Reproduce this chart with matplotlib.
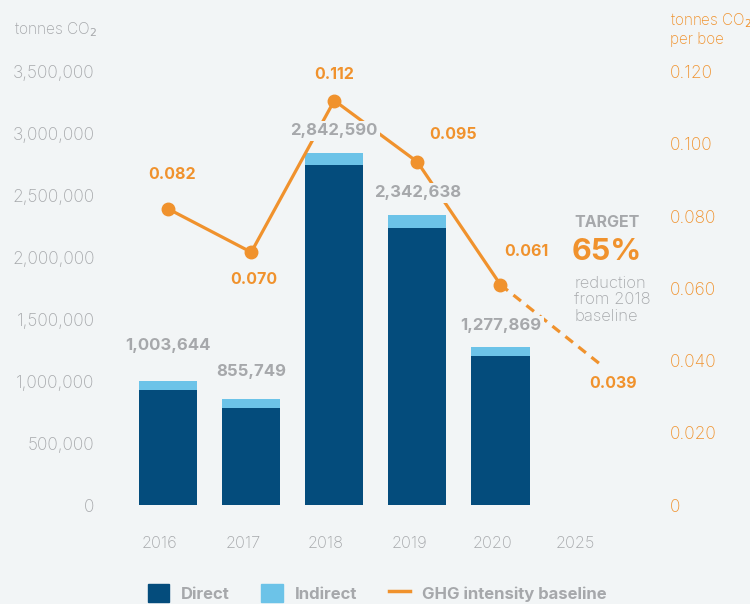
import matplotlib.pyplot as plt
from matplotlib.lines import Line2D
from matplotlib.patches import Patch

years = ["2016", "2017", "2018", "2019", "2020", "2025"]
totals = [1003644, 855749, 2842590, 2342638, 1277869]
direct = [930000, 783000, 2745000, 2237000, 1205000]
indirect = [t - d for t, d in zip(totals, direct)]
intensity = [0.082, 0.070, 0.112, 0.095, 0.061]
target_2025 = 0.039

BG = "#f2f5f6"
DARK = "#044c7c"
LIGHT = "#6cc3e8"
ORANGE = "#f0922d"
GREY = "#a6a8ab"

plt.rcParams["font.family"] = ["Inter", "DejaVu Sans"]

fig = plt.figure(figsize=(7.5, 6.04), dpi=100, facecolor=BG)
ax = fig.add_axes([110 / 750, 1 - 505 / 604, 540 / 750, 446 / 604])
ax.set_facecolor(BG)
ax2 = ax.twinx()

xs = list(range(len(totals)))
ax.bar(xs, direct, width=0.7, color=DARK, zorder=2)
ax.bar(xs, indirect, bottom=direct, width=0.7, color=LIGHT, zorder=2)

ax.set_xlim(-0.7, 5.8)
ax.set_ylim(0, 3.6e6)
ax.set_yticks(range(0, 3500001, 500000))
ax.set_yticklabels([f"{v:,}" for v in range(0, 3500001, 500000)], fontweight="light")
ax.set_xticks([i - 0.1 for i in range(len(years))])
ax.set_xticklabels(years, fontweight="light")
ax.tick_params(axis="both", length=0, colors=GREY)
ax.tick_params(axis="y", pad=11, labelsize=12.5)
ax.tick_params(axis="x", pad=22, labelsize=11.8)

for s in list(ax.spines.values()) + list(ax2.spines.values()):
    s.set_visible(False)

# intensity line (on the twin axes, which sit above the bars)
YTOP = 0.1235
ax2.set_ylim(0, YTOP)
ax2.set_yticks([0, 0.02, 0.04, 0.06, 0.08, 0.10, 0.12])
ax2.set_yticklabels(["0", "0.020", "0.040", "0.060", "0.080", "0.100", "0.120"],
                    fontweight="light")
ax2.tick_params(axis="y", length=0, colors=ORANGE, labelsize=12.5, pad=14)
ax2.plot(xs, intensity, color=ORANGE, lw=2.3, marker="o", ms=9, zorder=3)
ax2.plot([4, 5.2], [intensity[-1], target_2025], color=ORANGE, lw=2.3,
         dashes=(3, 2.2), zorder=3)

line_offs = [(3, 25), (2, -20), (0, 19), (26, 20), (19, 24)]
for x, v, o in zip(xs, intensity, line_offs):
    ax2.annotate(f"{v:.3f}", (x, v), xytext=o, textcoords="offset points",
                 ha="center", va="center", fontsize=11.5, fontweight="bold", color=ORANGE)
ax2.annotate(f"{target_2025:.3f}", (5.2, target_2025), xytext=(9, -14),
             textcoords="offset points", ha="center", va="center",
             fontsize=11.5, fontweight="bold", color=ORANGE)

# bar totals, with a background box so they mask the line
offs = [25, 20, 16, 16, 15]
for x, t, o in zip(xs, totals, offs):
    ax2.annotate(f"{t:,}", (x, t * YTOP / 3.6e6), xytext=(0, o), textcoords="offset points",
                 ha="center", va="center", fontsize=12, fontweight="bold", color=GREY,
                 zorder=5, bbox=dict(boxstyle="square,pad=0.15", fc=BG, ec="none"))

# axis titles
fig.text(14 / 750, 1 - 30 / 604, "tonnes CO$_2$", color=GREY, fontsize=11.2,
         fontweight="light", ha="left", va="center")
fig.text(670 / 750, 1 - 29 / 604, "tonnes CO$_2$\nper boe", color=ORANGE, fontsize=11,
         fontweight="light", ha="left", va="center", linespacing=1.15)

# target note
fig.text(574 / 750, 1 - 223 / 604, "TARGET", color=GREY, fontsize=11.5,
         fontweight="bold", ha="left", va="center")
fig.text(572 / 750, 1 - 252 / 604, "65%", color=ORANGE, fontsize=22,
         fontweight="bold", ha="left", va="center")
fig.text(574 / 750, 1 - 300 / 604, "reduction\nfrom 2018\nbaseline", color=GREY,
         fontsize=12, fontweight="light", ha="left", va="center", linespacing=1.15)

handles = [Patch(color=DARK), Patch(color=LIGHT), Line2D([], [], color=ORANGE, lw=2.5)]
leg = fig.legend(handles, ["Direct", "Indirect", "GHG intensity baseline"],
                 loc="center", bbox_to_anchor=(0.503, 1 - 593 / 604), ncol=3,
                 frameon=False, handlelength=1.3, handleheight=1.3, handletextpad=0.7,
                 columnspacing=1.9, prop={"weight": "bold", "size": 12})
for t in leg.get_texts():
    t.set_color(GREY)

fig.savefig("out.png", dpi=100, facecolor=BG)
